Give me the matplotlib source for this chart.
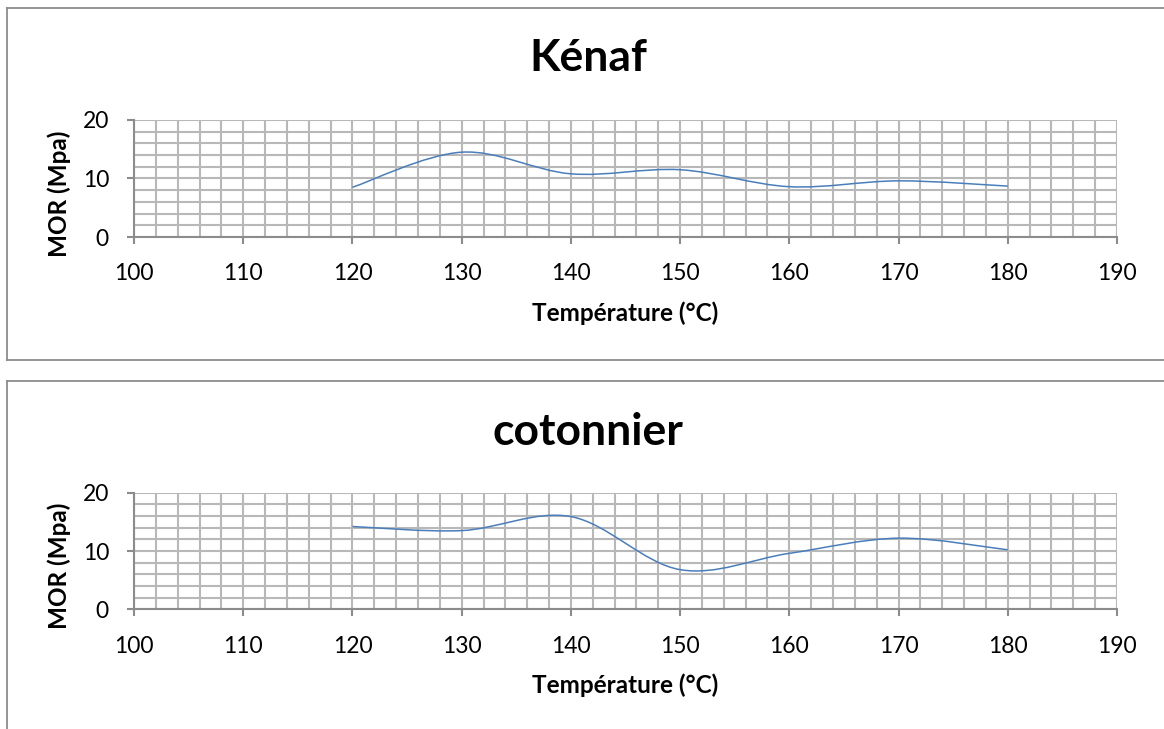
import matplotlib
matplotlib.use("Agg")
import matplotlib.pyplot as plt
from matplotlib.path import Path
from matplotlib.patches import PathPatch
from matplotlib.lines import Line2D
import matplotlib.ticker as mticker

plt.rcParams['font.family'] = ['Lato', 'DejaVu Sans']

temperatures = [120, 130, 140, 150, 160, 170, 180]
mor_kenaf = [8.5, 14.5, 10.8, 11.5, 8.6, 9.6, 8.7]
mor_cotonnier = [14.2, 13.5, 15.9, 6.8, 9.6, 12.2, 10.2]
titres = ["Kénaf", "cotonnier"]

W, H = 1164, 729


# courbe lissée facon Excel (bezier, tension 1/6)
def courbe_lisse(x, y):
    pts = list(zip(x, y))
    verts = [pts[0]]
    codes = [Path.MOVETO]
    n = len(pts)
    for i in range(n - 1):
        p0 = pts[i - 1] if i > 0 else pts[i]
        p1 = pts[i]
        p2 = pts[i + 1]
        p3 = pts[i + 2] if i + 2 < n else pts[i + 1]
        c1 = (p1[0] + (p2[0] - p0[0]) / 6, p1[1] + (p2[1] - p0[1]) / 6)
        c2 = (p2[0] - (p3[0] - p1[0]) / 6, p2[1] - (p3[1] - p1[1]) / 6)
        verts += [c1, c2, p2]
        codes += [Path.CURVE4] * 3
    return Path(verts, codes)


def graphe(ax, y, titre, ytitre):
    patch = PathPatch(courbe_lisse(temperatures, y), facecolor='none',
                      edgecolor='#4a7ebb', lw=1.1, zorder=3)
    ax.add_patch(patch)
    ax.set_xlim(100, 190)
    ax.set_ylim(0, 20)
    ax.xaxis.set_major_locator(mticker.MultipleLocator(10))
    ax.xaxis.set_minor_locator(mticker.MultipleLocator(2))
    ax.yaxis.set_major_locator(mticker.MultipleLocator(10))
    ax.yaxis.set_minor_locator(mticker.MultipleLocator(2))
    ax.grid(True, which='both', color='#b8b8b8', lw=1.5)
    ax.set_axisbelow(True)
    for s in ['top', 'right']:
        ax.spines[s].set_visible(False)
    for s in ['left', 'bottom']:
        ax.spines[s].set_color('#8c8c8c')
        ax.spines[s].set_linewidth(1.5)
    ax.tick_params(which='major', direction='out', length=5, width=1.5,
                   color='#8c8c8c', labelsize=16.5)
    ax.tick_params(axis='x', which='major', pad=14)
    ax.tick_params(axis='y', which='major', pad=13)
    ax.tick_params(which='minor', length=0)
    ax.set_xlabel("Température (°C)", fontsize=17.5, fontweight='bold')
    ax.set_ylabel("MOR (Mpa)", fontsize=17.5, fontweight='bold')
    ax.yaxis.set_label_coords(-0.064, 0.37)
    ax.xaxis.set_label_coords(0.5, -0.55)
    fig.text(588 / W, 1 - ytitre / H, titre, ha='center', va='center',
             fontsize=32, fontweight='bold')


fig = plt.figure(figsize=(W / 100, H / 100), dpi=100)
ax1 = fig.add_axes([134 / W, 1 - 237 / H, (1117 - 134) / W, (237 - 120) / H])
ax2 = fig.add_axes([134 / W, 1 - 609.3 / H, (1117 - 134) / W, (609.3 - 492.7) / H])

graphe(ax1, mor_kenaf, titres[0], 58)
graphe(ax2, mor_cotonnier, titres[1], 432)

# cadres des graphiques
gris = '#8c8c8c'
for y_haut, y_bas in [(8, 360), (380.5, 740)]:
    fig.add_artist(Line2D([7 / W, 1.01], [1 - y_haut / H] * 2, color=gris, lw=1.3,
                          transform=fig.transFigure))
    fig.add_artist(Line2D([7 / W] * 2, [1 - y_haut / H, 1 - y_bas / H], color=gris,
                          lw=1.3, transform=fig.transFigure))
    fig.add_artist(Line2D([7 / W, 1.01], [1 - y_bas / H] * 2, color=gris, lw=1.3,
                          transform=fig.transFigure))

fig.savefig("out.png", dpi=100)
